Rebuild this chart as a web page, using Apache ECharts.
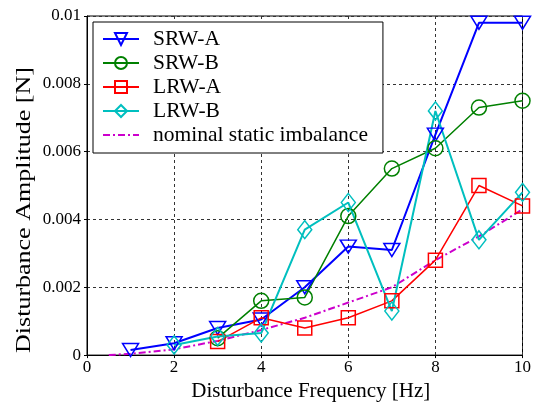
<!DOCTYPE html>
<html>
<head>
<meta charset="utf-8">
<script src="https://cdn.jsdelivr.net/npm/echarts@6/dist/echarts.min.js"></script>
<style>html,body{margin:0;padding:0;background:#fff}#c{width:534px;height:407px}</style>
</head>
<body>
<div id="c"></div>
<script>
var freqs = [1, 2, 3, 4, 5, 6, 7, 8, 9, 10];
var srwA = [0.00015, 0.00035, 0.0008, 0.00105, 0.002, 0.0032, 0.0031, 0.0065, 0.0098, 0.0098];
var srwBFreqs = [3, 4, 5, 6, 7, 8, 9, 10];
var srwB = [0.0005, 0.0016, 0.0017, 0.0041, 0.0055, 0.0061, 0.0073, 0.0075];
var lrwAFreqs = [3, 4, 5, 6, 7, 8, 9, 10];
var lrwA = [0.0004, 0.0011, 0.0008, 0.0011, 0.0016, 0.0028, 0.005, 0.0044];
var lrwBFreqs = [2, 3, 4, 5, 6, 7, 8, 9, 10];
var lrwB = [0.0003, 0.00055, 0.00065, 0.0037, 0.0045, 0.0013, 0.0072, 0.0034, 0.0048];
var nomFreqs = [0.5, 1, 2, 3, 4, 5, 6, 7, 8, 9, 10];
var nominal = [0, 0.00004, 0.00017, 0.00042, 0.00074, 0.0011, 0.00155, 0.002, 0.0028, 0.0035, 0.0043];
var xTickLabels = ['0', '2', '4', '6', '8', '10'];
var yTickLabels = ['0', '0.002', '0.004', '0.006', '0.008', '0.01'];

function pairs(xs, ys) { return xs.map(function (x, i) { return [x, ys[i]]; }); }

var FONT = 'Liberation Serif';
var chart = echarts.init(document.getElementById('c'));

function mk(name, xs, ys, color, symbol, size, lw, rot) {
  return {
    name: name, type: 'line', data: pairs(xs, ys),
    symbol: symbol, symbolSize: size, symbolRotate: rot || 0,
    lineStyle: { color: color, width: lw },
    itemStyle: { color: 'rgba(0,0,0,0)', borderColor: color, borderWidth: 1.5 },
    emphasis: { disabled: true }, z: 3
  };
}

chart.setOption({
  animation: false,
  backgroundColor: '#fff',
  grid: { left: 87, right: 11, top: 16, bottom: 48, show: true, borderColor: '#000', borderWidth: 1, backgroundColor: '#fff' },
  xAxis: {
    type: 'value', min: 0, max: 10, interval: 2,
    name: 'Disturbance Frequency [Hz]', nameLocation: 'middle', nameGap: 24,
    nameTextStyle: { fontFamily: FONT, fontSize: 21, color: '#000', padding: [0, 0, 0, 12] },
    axisLine: { show: true, onZero: false, lineStyle: { color: '#000', width: 1 } },
    axisTick: { show: true, length: 3, lineStyle: { color: '#000' } },
    axisLabel: { fontFamily: FONT, fontSize: 17, color: '#000', margin: 4,
      formatter: function (v) { return xTickLabels[Math.round(v / 2)]; } },
    splitLine: { show: true, lineStyle: { color: '#333', type: [3, 3], width: 1 } }
  },
  yAxis: {
    type: 'value', min: 0, max: 0.01, interval: 0.002,
    axisLine: { show: true, lineStyle: { color: '#000', width: 1 } },
    axisTick: { show: true, length: 3, lineStyle: { color: '#000' } },
    axisLabel: { fontFamily: FONT, fontSize: 17, color: '#000', margin: 6,
      formatter: function (v) { return yTickLabels[Math.round(v / 0.002)]; } },
    splitLine: { show: true, lineStyle: { color: '#333', type: [3, 3], width: 1 } }
  },
  legend: {
    orient: 'vertical', left: 93, top: 22,
    padding: [6, 15, 7, 9], itemGap: 2, itemWidth: 36, itemHeight: 15,
    backgroundColor: '#fff', borderColor: '#000', borderWidth: 1,
    textStyle: { fontFamily: FONT, fontSize: 21.5, color: '#000', lineHeight: 20, padding: [0, 0, 0, 9] },
    data: ['SRW-A', 'SRW-B', 'LRW-A', 'LRW-B',
      { name: 'nominal static imbalance', itemStyle: { opacity: 0 } }]
  },
  graphic: [{
    type: 'text', x: 25, y: 210, rotation: Math.PI / 2, scaleY: 0.8,
    style: { text: 'Disturbance Amplitude [N]', fontFamily: FONT, fontSize: 26, fill: '#000', align: 'center', verticalAlign: 'middle' }
  }],
  series: [
    mk('SRW-A', freqs, srwA, '#0000ff', 'triangle', [16, 13], 2, 180),
    mk('SRW-B', srwBFreqs, srwB, '#008000', 'circle', 15, 1.5),
    mk('LRW-A', lrwAFreqs, lrwA, '#ff0000', 'rect', 14, 1.5),
    mk('LRW-B', lrwBFreqs, lrwB, '#00bfbf', 'diamond', [14, 18], 2),
    {
      name: 'nominal static imbalance', type: 'line', data: pairs(nomFreqs, nominal),
      symbol: 'none', lineStyle: { color: '#cc00cc', width: 2, type: [7, 3, 2, 3] },
      itemStyle: { color: '#cc00cc' }, emphasis: { disabled: true }, z: 2
    }
  ]
});
</script>
</body>
</html>
